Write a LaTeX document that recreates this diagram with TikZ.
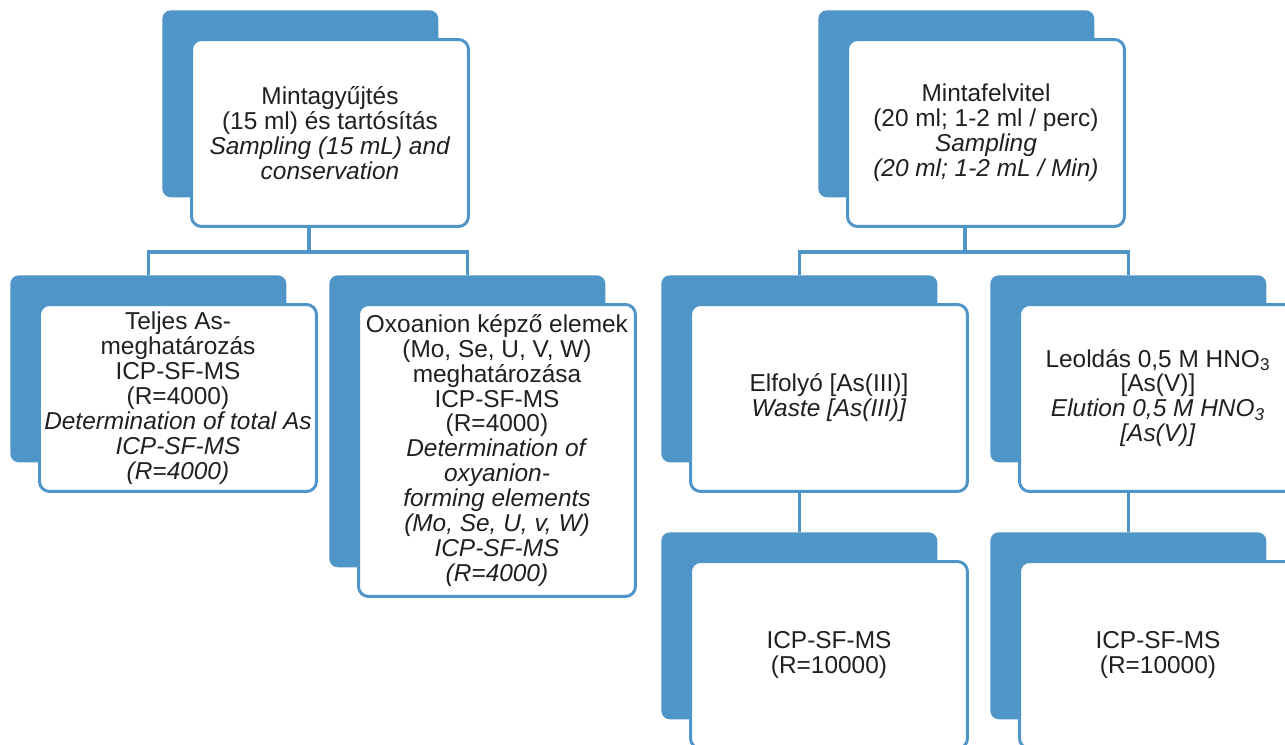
\documentclass[tikz,border=0pt]{standalone}
\usepackage{fontspec}
\setmainfont{Liberation Sans}
\usetikzlibrary{calc}
\definecolor{smartBlue}{RGB}{79,149,199}
\definecolor{smartText}{RGB}{35,31,32}
\newcommand\boxfont{\fontsize{13.9}{14.2}\selectfont\setlength{\lineskiplimit}{-100pt}}

\begin{document}
\begin{tikzpicture}[x=0.02cm,y=-0.02cm,
    tab/.style={fill=smartBlue,rounded corners=0.17cm,anchor=north west,
                minimum width=5.52cm,minimum height=3.74cm,inner sep=0pt},
    box/.style={draw=smartBlue,line width=0.06cm,fill=white,rounded corners=0.2cm,
                anchor=north west,minimum width=5.54cm,minimum height=3.74cm,
                inner sep=0pt,align=center,text=smartText,font=\boxfont},
    tall/.style={minimum height=5.84cm},
    conn/.style={draw=smartBlue,line width=0.07cm}]

    \useasboundingbox (0,0) rectangle (1285,744);
    \clip (0,0) rectangle (1285,744);

    % Sampling and conservation
    \node[tab] (p1b) at (162,10) {};
    \node[box] (p1) at (190,38) {Mintagyűjtés\\(15 ml) és tartósítás\\
      \textit{Sampling (15 mL) and}\\\textit{conservation}};

    \node[tab] (c1b) at (10,275) {};
    \node[box] (c1) at (38,303) {Teljes As-\\meghatározás\\ICP-SF-MS\\(R=4000)\\
      \textit{Determination of total As}\\\textit{ICP-SF-MS}\\\textit{(R=4000)}};

    \node[tab,tall] (c2b) at (329,275) {};
    \node[box,tall] (c2) at (357,303) {Oxoanion képző elemek\\(Mo, Se, U, V, W)\\
      meghatározása\\ICP-SF-MS\\(R=4000)\\\textit{Determination of}\\
      \textit{oxyanion-}\\\textit{forming elements}\\\textit{(Mo, Se, U, v, W)}\\
      \textit{ICP-SF-MS}\\\textit{(R=4000)}};

    % Sampling on the column
    \node[tab] (p2b) at (818,10) {};
    \node[box] (p2) at (846,38) {Mintafelvitel\\(20 ml; 1-2 ml / perc)\\
      \textit{Sampling}\\\textit{(20 ml; 1-2 mL / Min)}};

    \node[tab] (c3b) at (661,275) {};
    \node[box] (c3) at (689,303) {Elfolyó [As(III)]\\\textit{Waste [As(III)]}};

    \node[tab] (c4b) at (990,275) {};
    \node[box] (c4) at (1018,303) {Leoldás 0,5 M HNO\textsubscript{3}\\{[As(V)]}\\
      \textit{Elution 0,5 M HNO\textsubscript{3}}\\\textit{[As(V)]}};

    \node[tab] (g1b) at (661,532) {};
    \node[box] (g1) at (689,560) {ICP-SF-MS\\(R=10000)};

    \node[tab] (g2b) at (990,532) {};
    \node[box] (g2) at (1018,560) {ICP-SF-MS\\(R=10000)};

    % connectors
    \draw[conn] ([xshift=-0.42cm]p1.south) -- ++(0,24) coordinate (j1);
    \draw[conn] (c1b.north) |- (j1) -| (c2b.north);
    \draw[conn] ([xshift=-0.42cm]p2.south) -- ++(0,24) coordinate (j2);
    \draw[conn] (c3b.north) |- (j2) -| (c4b.north);
    \draw[conn] (c3.south -| g1b.north) -- (g1b.north);
    \draw[conn] (c4.south -| g2b.north) -- (g2b.north);
\end{tikzpicture}
\end{document}
